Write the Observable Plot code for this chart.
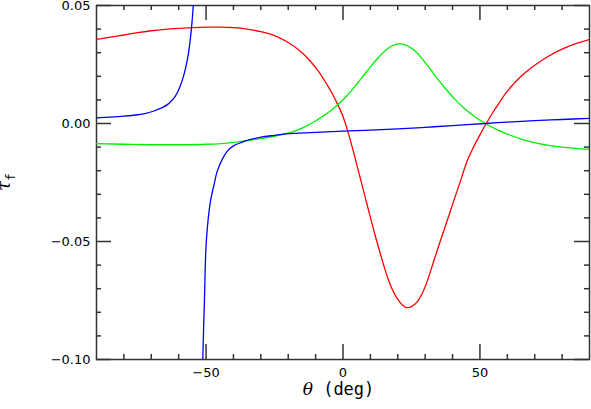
<!DOCTYPE html>
<html><head><meta charset="utf-8">
<script src="https://cdn.jsdelivr.net/npm/d3@7"></script>
<script src="https://cdn.jsdelivr.net/npm/@observablehq/plot@0.6"></script>
<style>body{margin:0;background:#fff;}</style>
</head><body><div id="chart"></div>
<script>
// Red curve
const redTheta = [-90,-85,-80,-75,-70,-65,-60,-55,-50,-45,-40,-35,-30,-25,-20,-16,-12,-9,-6,-4,-2,0,2,4,6,8,10,12,14,16,18,20,22,23.4,25,27,29,30.7,33,35.5,38,40.4,43,45.3,48,50,52.3,55,57.4,60,65,70,75,80,85,90];
const redTau   = [0.0356,0.0366,0.0375,0.0385,0.0393,0.0399,0.0403,0.0406,0.0408,0.0408,0.0406,0.0400,0.0389,0.0372,0.0343,0.0310,0.0265,0.0222,0.0168,0.0128,0.0082,0.0030,-0.0043,-0.0128,-0.0218,-0.0308,-0.0398,-0.0485,-0.0566,-0.0643,-0.0703,-0.0745,-0.0772,-0.0780,-0.0776,-0.0757,-0.0718,-0.0670,-0.0588,-0.0499,-0.0413,-0.0329,-0.0240,-0.0160,-0.0092,-0.0048,0.0000,0.0052,0.0094,0.0137,0.0200,0.0247,0.0285,0.0315,0.0338,0.0356];
// Green curve
const greenTheta = [-90,-80,-70,-60,-50,-42,-36.3,-30,-25,-20.4,-17,-14,-11,-8,-5,-2,1,4,7,10,13,16,18.5,20.7,23,25.8,29,32,35,38,41,44,48,52,56,60,66,72,80,90];
const greenTau   = [-0.0085,-0.0088,-0.0090,-0.0090,-0.0088,-0.0083,-0.0075,-0.0064,-0.0054,-0.0042,-0.0029,-0.0014,0.0004,0.0026,0.0050,0.0078,0.0112,0.0152,0.0196,0.0240,0.0281,0.0315,0.0332,0.0337,0.0332,0.0312,0.0273,0.0228,0.0182,0.0140,0.0101,0.0067,0.0030,0.0000,-0.0025,-0.0045,-0.0069,-0.0086,-0.0100,-0.0110];
// Blue curve, branch left of the pole
const blueLeftTheta = [-90,-85,-80,-75,-72,-69,-66,-64,-62,-60.5,-59.4,-58.5,-57.5,-56.5,-55.8,-55.2,-54.7,-54.2,-53.8];
const blueLeftTau   = [0.0024,0.0027,0.0031,0.0037,0.0043,0.0053,0.0067,0.0081,0.0103,0.0130,0.0160,0.0190,0.0234,0.0292,0.0352,0.0420,0.0495,0.0590,0.0700];
// Blue curve, branch right of the pole
const blueRightTheta = [-51.6,-51.2,-50.6,-49.9,-48.4,-47,-46,-44,-42.3,-40,-37,-35,-30,-25,-20,-10,0,10,20,30,40,52,60,70,80,90];
const blueRightTau   = [-0.130,-0.100,-0.0753,-0.0499,-0.0330,-0.0255,-0.0205,-0.0150,-0.0118,-0.0095,-0.0080,-0.0072,-0.0058,-0.0050,-0.0043,-0.0038,-0.0032,-0.0028,-0.0023,-0.0016,-0.0009,0.0000,0.0006,0.0012,0.0017,0.0022];

// Ticks
const xMajor = [-50, 0, 50];
const xMinor = [-80,-70,-60,-40,-30,-20,-10,10,20,30,40,60,70,80];
const yMajor = [-0.10, -0.05, 0.00, 0.05];
const yMinor = [-0.09,-0.08,-0.07,-0.06,-0.04,-0.03,-0.02,-0.01,0.01,0.02,0.03,0.04];

const rows = (xs, ys) => xs.map((x, i) => ({x, y: ys[i]}));
const W = 591, H = 409, ML = 96, MR = 2, MT = 5, MB = 50;
const FW = W - ML - MR, FH = H - MT - MB;
const MAJ = 15, MIN = 5;
const axisColor = "#333";
const rs = {stroke: axisColor, strokeWidth: 1.5};
const fmtX = d => (d < 0 ? "\u2212" : "") + Math.abs(d);
const fmtY = d => (d < -1e-9 ? "\u2212" : "") + Math.abs(d).toFixed(2);
const lineOpts = {x: "x", y: "y", strokeWidth: 1.3, curve: "catmull-rom", clip: true};

const plot = Plot.plot({
  width: W, height: H,
  marginLeft: ML, marginRight: MR, marginTop: MT, marginBottom: MB,
  style: {fontFamily: "DejaVu Sans", fontSize: "13px", background: "#fff", color: "#000"},
  x: {domain: [-90, 90]},
  y: {domain: [-0.10, 0.05]},
  marks: [
    // inward ticks on all four sides (drawn first)
    Plot.ruleX(xMajor, {x: d => d, insetTop: FH - MAJ, ...rs}),
    Plot.ruleX(xMinor, {x: d => d, insetTop: FH - MIN, ...rs}),
    Plot.ruleX(xMajor, {x: d => d, insetBottom: FH - MAJ, ...rs}),
    Plot.ruleX(xMinor, {x: d => d, insetBottom: FH - MIN, ...rs}),
    Plot.ruleY(yMajor, {y: d => d, insetRight: FW - MAJ, ...rs}),
    Plot.ruleY(yMinor, {y: d => d, insetRight: FW - MIN, ...rs}),
    Plot.ruleY(yMajor, {y: d => d, insetLeft: FW - MAJ, ...rs}),
    Plot.ruleY(yMinor, {y: d => d, insetLeft: FW - MIN, ...rs}),
    Plot.frame({stroke: axisColor, strokeWidth: 1.5}),
    Plot.axisX({anchor: "bottom", ticks: xMajor, tickSize: 0, tickPadding: 8, tickFormat: fmtX, label: null, fill: "#000"}),
    Plot.axisY({anchor: "left", ticks: yMajor, tickSize: 0, tickPadding: 6, tickFormat: fmtY, label: null, fill: "#000"}),
    // curves
    Plot.line(rows(redTheta, redTau), {...lineOpts, stroke: "#ff0000"}),
    Plot.line(rows(greenTheta, greenTau), {...lineOpts, stroke: "#00f000"}),
    Plot.line(rows(blueLeftTheta, blueLeftTau), {...lineOpts, stroke: "#0000ff"}),
    Plot.line(rows(blueRightTheta, blueRightTau), {...lineOpts, stroke: "#0000ff"})
  ]
});
document.getElementById("chart").appendChild(plot);

const svg = d3.select(plot);
// x-axis label
const xl = svg.append("text").attr("x", 338.5).attr("y", 395).attr("text-anchor", "middle").attr("fill", "#000");
xl.append("tspan").attr("font-family", "DejaVu Serif").attr("font-style", "italic").attr("font-size", 17).text("\u03b8");
xl.append("tspan").attr("font-family", "DejaVu Sans Mono").attr("font-size", 17).text(" (deg)");
// y-axis label
const yl = svg.append("text").attr("transform", "translate(9.5,182) rotate(-90)").attr("text-anchor", "middle").attr("fill", "#000");
yl.append("tspan").attr("font-family", "DejaVu Serif").attr("font-style", "italic").attr("font-size", 18).text("\u03c4");
yl.append("tspan").attr("font-family", "DejaVu Sans Mono").attr("font-size", 13).attr("dy", 5).text("f");
</script>
</body></html>
